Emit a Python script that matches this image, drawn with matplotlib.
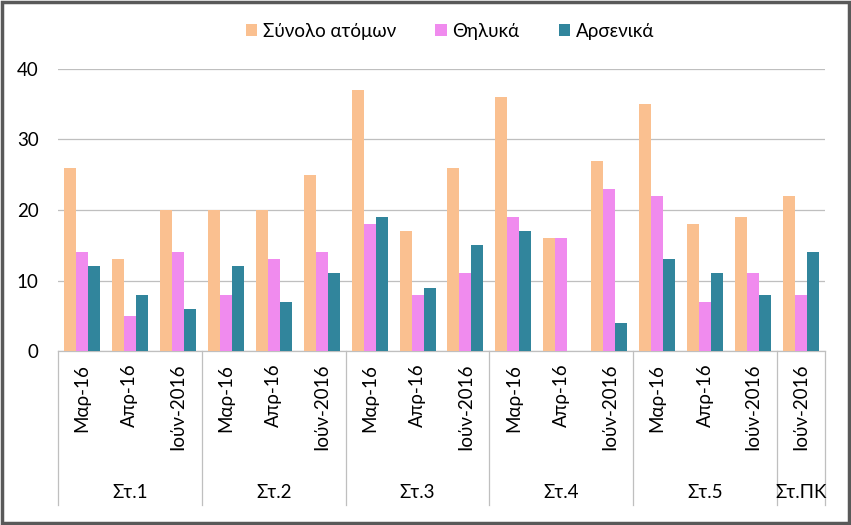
import matplotlib
matplotlib.use("Agg")
import matplotlib.pyplot as plt
from matplotlib.patches import Rectangle
import numpy as np

plt.rcParams['font.family'] = ['Lato', 'Noto Sans', 'DejaVu Sans']

groups = ["Στ.1", "Στ.2", "Στ.3", "Στ.4", "Στ.5", "Στ.ΠΚ"]
group_sizes = [3, 3, 3, 3, 3, 1]
months = ["Μαρ-16", "Απρ-16", "Ιούν-2016"] * 5 + ["Ιούν-2016"]
total = [26, 13, 20, 20, 20, 25, 37, 17, 26, 36, 16, 27, 35, 18, 19, 22]
female = [14, 5, 14, 8, 13, 14, 18, 8, 11, 19, 16, 23, 22, 7, 11, 8]
male = [12, 8, 6, 12, 7, 11, 19, 9, 15, 17, 0, 4, 13, 11, 8, 14]
series_names = ["Σύνολο ατόμων", "Θηλυκά", "Αρσενικά"]
colors = ["#FAC090", "#F08BEE", "#31859C"]

FS = 13.5
W, H = 851, 525
fig = plt.figure(figsize=(W / 100, H / 100), dpi=100)
ax = fig.add_axes([58 / W, 174 / H, (825 - 58) / W, (351 - 69) / H])

x = np.arange(len(months))
bw = 0.25
for k, vals in enumerate([total, female, male]):
    ax.bar(x + (k - 1) * bw, vals, width=bw, color=colors[k],
           label=series_names[k], zorder=3)

ax.set_xlim(-0.5, len(months) - 0.5)
ax.set_ylim(0, 40)
ax.set_yticks([0, 10, 20, 30, 40])
ax.tick_params(axis='y', length=0, pad=14, labelsize=FS, colors='#000000')
ax.set_xticks([])
ax.grid(axis='y', color='#BFBFBF', linewidth=0.9, zorder=0)
for s in ['top', 'right', 'left']:
    ax.spines[s].set_visible(False)
ax.spines['bottom'].set_color('#BFBFBF')
ax.spines['bottom'].set_linewidth(0.9)

tr = ax.get_xaxis_transform()
for i, m in enumerate(months):
    ax.text(i, -0.045, m, rotation=90, ha='center', va='top',
            fontsize=FS, transform=tr)

start = 0
edges = [-0.5]
for g, n in zip(groups, group_sizes):
    center = start + (n - 1) / 2
    ax.text(center, -0.5, g, ha='center', va='center', fontsize=FS, transform=tr)
    start += n
    edges.append(start - 0.5)
for e in edges:
    ax.plot([e, e], [0, -0.546], color='#BFBFBF', linewidth=0.9,
            transform=tr, clip_on=False)

fig.legend(loc='upper center', bbox_to_anchor=(450 / W, 1 - 6 / H), ncol=3,
           frameon=False, fontsize=FS, handlelength=0.6, handleheight=0.6,
           handletextpad=0.3, columnspacing=2.1)

fig.patches.append(Rectangle((0.002, 0.003), 0.996, 0.994, transform=fig.transFigure,
                             fill=False, edgecolor='#595959', linewidth=2.5))

fig.savefig("out.png", dpi=100)
